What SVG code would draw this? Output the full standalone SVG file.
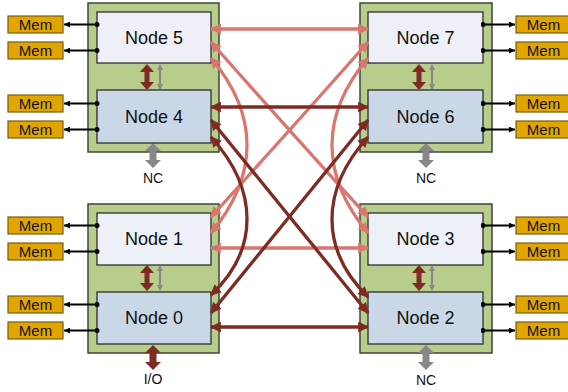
<svg xmlns="http://www.w3.org/2000/svg" xmlns:xlink="http://www.w3.org/1999/xlink" width="568" height="392" viewBox="0 0 568 392">
<style>
.pkg{fill:#b8cc8c;stroke:#3e4636;stroke-width:1.5}
.nu{fill:#edf0f6;stroke:#2e2e2e;stroke-width:1.3}
.nl{fill:#c9d7e6;stroke:#2e2e2e;stroke-width:1.3}
.mem{fill:#e1a500;stroke:#7a5c0c;stroke-width:1.2}
.nt{font-family:"Liberation Sans",Arial,sans-serif;font-size:18px;fill:#111;text-anchor:middle}
.mt{font-family:"Liberation Sans",Arial,sans-serif;font-size:15px;fill:#111;text-anchor:middle}
.lt{font-family:"Liberation Sans",Arial,sans-serif;font-size:14px;fill:#111;text-anchor:middle}
.ml{stroke:#000;stroke-width:2;fill:none;marker-start:url(#dot);marker-end:url(#sa)}
.lr{stroke:#d9776f;stroke-width:3.3;fill:none;marker-start:url(#al);marker-end:url(#al)}
.dr{stroke:#7d2b23;stroke-width:3.3;fill:none;marker-start:url(#ad);marker-end:url(#ad)}
.fd{fill:#7d2b23}
.fg{fill:#888}
</style>
<defs>
<marker id="al" viewBox="0 0 10 10" refX="9" refY="5" markerWidth="11" markerHeight="11" markerUnits="userSpaceOnUse" orient="auto-start-reverse"><path d="M0,0 L10,5 L0,10 Z" fill="#d9776f"/></marker>
<marker id="ad" viewBox="0 0 10 10" refX="9" refY="5" markerWidth="11" markerHeight="11" markerUnits="userSpaceOnUse" orient="auto-start-reverse"><path d="M0,0 L10,5 L0,10 Z" fill="#7d2b23"/></marker>
<marker id="sa" viewBox="0 0 6 6" refX="6" refY="3" markerWidth="6" markerHeight="6" markerUnits="userSpaceOnUse" orient="auto"><path d="M0,0 L6,3 L0,6 Z" fill="#000"/></marker>
<marker id="dot" viewBox="0 0 6 6" refX="3" refY="3" markerWidth="5" markerHeight="5" markerUnits="userSpaceOnUse"><circle cx="3" cy="3" r="3" fill="#000"/></marker>
<path id="thick" d="M0,0 L7,8 L2.5,8 L2.5,18 L7,18 L0,26 L-7,18 L-2.5,18 L-2.5,8 L-7,8 Z"/>
<path id="thin" d="M0,0 L3,6 L1,6 L1,20 L3,20 L0,26 L-3,20 L-1,20 L-1,6 L-3,6 Z"/>
<path id="ext" d="M0,0 L8,8 L3.5,8 L3.5,17 L8,17 L0,25 L-8,17 L-3.5,17 L-3.5,8 L-8,8 Z"/>
</defs>

<g id="pkg-tl">
<rect class="pkg" x="88" y="3" width="131" height="149"/>
<use href="#thick" class="fd" x="147" y="64"/>
<use href="#thin" class="fg" x="160" y="64"/>
<use href="#ext" class="fg" x="153" y="143"/>
<text class="lt" x="153" y="183">NC</text>
</g>
<g id="node5"><rect class="nu" x="97" y="12" width="114" height="51"/><text class="nt" x="154" y="44">Node 5</text></g>
<g id="node4"><rect class="nl" x="97" y="90" width="114" height="53"/><text class="nt" x="154" y="123">Node 4</text></g>

<g id="pkg-tr">
<rect class="pkg" x="360" y="3" width="132" height="149"/>
<use href="#thick" class="fd" x="419" y="64"/>
<use href="#thin" class="fg" x="432" y="64"/>
<use href="#ext" class="fg" x="426" y="143"/>
<text class="lt" x="426" y="183">NC</text>
</g>
<g id="node7"><rect class="nu" x="368" y="12" width="115" height="51"/><text class="nt" x="425.5" y="44">Node 7</text></g>
<g id="node6"><rect class="nl" x="368" y="90" width="115" height="53"/><text class="nt" x="425.5" y="123">Node 6</text></g>

<g id="pkg-bl">
<rect class="pkg" x="88" y="204" width="131" height="149"/>
<use href="#thick" class="fd" x="147" y="265"/>
<use href="#thin" class="fg" x="160" y="265"/>
<use href="#ext" class="fd" x="153" y="345"/>
<text class="lt" x="153" y="384">I/O</text>
</g>
<g id="node1"><rect class="nu" x="97" y="213" width="114" height="52"/><text class="nt" x="154" y="245">Node 1</text></g>
<g id="node0"><rect class="nl" x="97" y="292" width="114" height="52"/><text class="nt" x="154" y="324">Node 0</text></g>

<g id="pkg-br">
<rect class="pkg" x="360" y="204" width="132" height="149"/>
<use href="#thick" class="fd" x="419" y="265"/>
<use href="#thin" class="fg" x="432" y="265"/>
<use href="#ext" class="fg" x="426" y="345"/>
<text class="lt" x="426" y="385">NC</text>
</g>
<g id="node3"><rect class="nu" x="368" y="213" width="115" height="52"/><text class="nt" x="425.5" y="245">Node 3</text></g>
<g id="node2"><rect class="nl" x="368" y="292" width="115" height="52"/><text class="nt" x="425.5" y="324">Node 2</text></g>

<g id="mem-l1"><rect class="mem" x="8" y="16" width="55" height="17"/><text class="mt" x="35.5" y="30">Mem</text></g>
<g id="mem-l2"><rect class="mem" x="8" y="42" width="55" height="17"/><text class="mt" x="35.5" y="56">Mem</text></g>
<g id="mem-l3"><rect class="mem" x="8" y="95" width="55" height="17"/><text class="mt" x="35.5" y="109">Mem</text></g>
<g id="mem-l4"><rect class="mem" x="8" y="121" width="55" height="17"/><text class="mt" x="35.5" y="135">Mem</text></g>
<g id="mem-l5"><rect class="mem" x="8" y="217" width="55" height="17"/><text class="mt" x="35.5" y="231">Mem</text></g>
<g id="mem-l6"><rect class="mem" x="8" y="243" width="55" height="17"/><text class="mt" x="35.5" y="257">Mem</text></g>
<g id="mem-l7"><rect class="mem" x="8" y="296" width="55" height="17"/><text class="mt" x="35.5" y="310">Mem</text></g>
<g id="mem-l8"><rect class="mem" x="8" y="322" width="55" height="17"/><text class="mt" x="35.5" y="336">Mem</text></g>
<g id="mem-r1"><rect class="mem" x="516" y="16" width="55" height="17"/><text class="mt" x="543.5" y="30">Mem</text></g>
<g id="mem-r2"><rect class="mem" x="516" y="42" width="55" height="17"/><text class="mt" x="543.5" y="56">Mem</text></g>
<g id="mem-r3"><rect class="mem" x="516" y="95" width="55" height="17"/><text class="mt" x="543.5" y="109">Mem</text></g>
<g id="mem-r4"><rect class="mem" x="516" y="121" width="55" height="17"/><text class="mt" x="543.5" y="135">Mem</text></g>
<g id="mem-r5"><rect class="mem" x="516" y="217" width="55" height="17"/><text class="mt" x="543.5" y="231">Mem</text></g>
<g id="mem-r6"><rect class="mem" x="516" y="243" width="55" height="17"/><text class="mt" x="543.5" y="257">Mem</text></g>
<g id="mem-r7"><rect class="mem" x="516" y="296" width="55" height="17"/><text class="mt" x="543.5" y="310">Mem</text></g>
<g id="mem-r8"><rect class="mem" x="516" y="322" width="55" height="17"/><text class="mt" x="543.5" y="336">Mem</text></g>

<g id="connectors">
<path class="ml" d="M97,24.5 H64"/>
<path class="ml" d="M97,50.5 H64"/>
<path class="ml" d="M97,103.5 H64"/>
<path class="ml" d="M97,129.5 H64"/>
<path class="ml" d="M97,225.5 H64"/>
<path class="ml" d="M97,251.5 H64"/>
<path class="ml" d="M97,304.5 H64"/>
<path class="ml" d="M97,330.5 H64"/>
<path class="ml" d="M483,24.5 H515"/>
<path class="ml" d="M483,50.5 H515"/>
<path class="ml" d="M483,103.5 H515"/>
<path class="ml" d="M483,129.5 H515"/>
<path class="ml" d="M483,225.5 H515"/>
<path class="ml" d="M483,251.5 H515"/>
<path class="ml" d="M483,304.5 H515"/>
<path class="ml" d="M483,330.5 H515"/>

<path class="lr" d="M211,29 H368"/>
<path class="lr" d="M211,248 H368"/>
<path class="lr" d="M211,42 Q278,118 368,217"/>
<path class="lr" d="M368,42 Q301,118 211,217"/>
<path class="lr" d="M211,58 C259,115 259,175 211,233"/>
<path class="lr" d="M368,58 C320,115 320,175 368,233"/>

<path class="dr" d="M211,107 H368"/>
<path class="dr" d="M211,327 H368"/>
<path class="dr" d="M211,120 L368,313"/>
<path class="dr" d="M368,120 L211,313"/>
<path class="dr" d="M211,137 C259,190 259,250 211,295"/>
<path class="dr" d="M368,137 C320,190 320,250 368,297"/>
</g>
</svg>
